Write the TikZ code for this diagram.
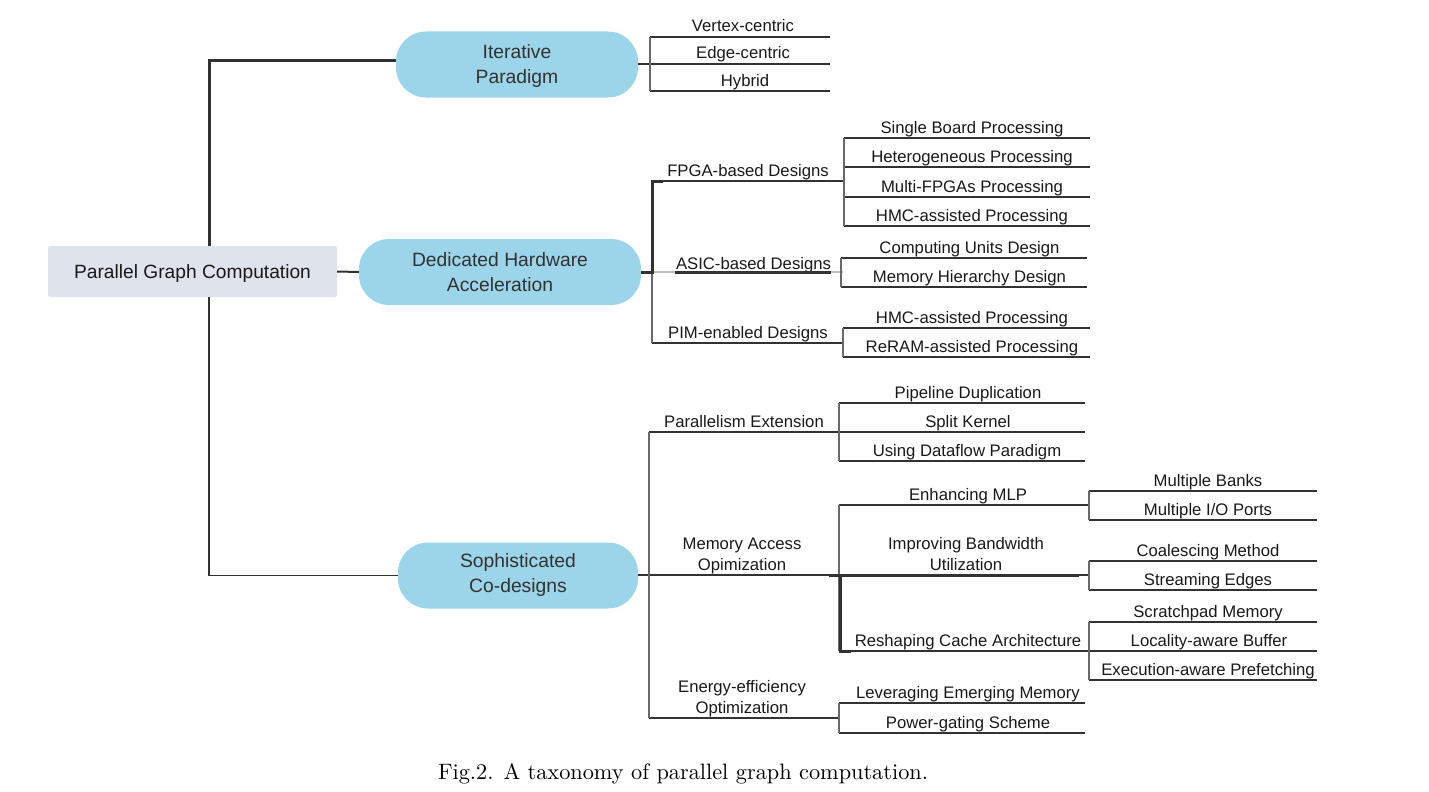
\documentclass[tikz,border=0pt]{standalone}
\usepackage{fontspec}
\newfontfamily\sansf{Liberation Sans}
\newfontfamily\capf{lmroman10-regular.otf}
\definecolor{pillblue}{RGB}{156,213,233}
\definecolor{rootgrey}{RGB}{223,227,236}
\definecolor{ldark}{RGB}{50,50,50}
\definecolor{lgrey}{RGB}{105,105,105}
\definecolor{llight}{RGB}{190,190,190}
\definecolor{tdark}{RGB}{25,25,25}
\definecolor{tpill}{RGB}{50,50,50}
\tikzset{
  pill/.style={fill=pillblue, rounded corners=30pt, minimum height=66pt, inner sep=0pt},
  pilltxt/.style={anchor=base, align=center, inner sep=0pt,
    font=\sansf\fontsize{19.3}{24.5}\selectfont, text=tpill},
  rootbox/.style={fill=rootgrey, rounded corners=2pt, minimum width=289pt, minimum height=51pt, inner sep=0pt,
    text height=13.8pt, text depth=0pt, font=\sansf\fontsize{19.2}{24}\selectfont, text=tdark},
  lbl/.style={font=\sansf\fontsize{16.7}{21}\selectfont, text=tdark, anchor=base, inner sep=0pt, align=center},
  hl/.style={draw=ldark, line width=1.3pt},
  vl/.style={draw=lgrey, line width=1.3pt},
  thk/.style={draw=ldark, line width=3pt},
  mid/.style={draw=ldark, line width=2pt},
}
% name, x1, x2, y, text-x, text
\newcommand\leafline[6]{%
  \coordinate (#1-l) at (#2,#4);
  \coordinate (#1-r) at (#3,#4);
  \node[lbl] (#1) at (#5,#4-5) {#6};
  \draw[hl] (#1-l) -- (#1-r);
}
\begin{document}
\begin{tikzpicture}[x=1pt,y=-1pt]
\useasboundingbox (0,0) rectangle (1429,792);

% main nodes
\node[rootbox] (root) at (192.5,271.5) {Parallel Graph Computation};
\node[pill, minimum width=242pt] (iter) at (517,64.5) {};
\node[pill, minimum width=282pt] (ded) at (500,272) {};
\node[pill, minimum width=240pt] (soph) at (518,575.5) {};
\node[pilltxt] (iter-t) at (517,83) {Iterative\\Paradigm};
\node[pilltxt] (ded-t) at (500,291) {Dedicated Hardware\\Acceleration};
\node[pilltxt] (soph-t) at (518,592) {Sophisticated\\Co-designs};

% root connectors
\coordinate (j0) at (209,61);
\coordinate (j1) at (209,575.5);
\draw[thk] (root.north -| j0) -- (j0) -- (j0 -| iter.west);
\draw[mid] (root.east) -- (ded.west);
\draw[draw=ldark, line width=1.6pt] (root.south -| j1) -- (j1) -- (j1 -| soph.west);

% ---------- Iterative Paradigm ----------
\leafline{vc}{650}{830}{37}{743}{Vertex-centric}
\leafline{ec}{650}{830}{64}{743}{Edge-centric}
\leafline{hy}{650}{830}{91}{745}{Hybrid}
\draw[hl] (iter.east |- ec-l) -- (ec-l);
\draw[vl] (vc-l) -- (hy-l);

% ---------- Dedicated Hardware ----------
\coordinate (dj) at (652,272);
\leafline{fpga}{652}{844}{181}{748}{FPGA-based Designs}
\leafline{pim}{652}{843}{343}{748}{PIM-enabled Designs}
\coordinate (asic-l) at (652,272);
\coordinate (asic-r) at (843,272);
\coordinate (asic-a) at (675,272);
\coordinate (asic-b) at (831,272);
\draw[draw=llight, line width=1.3pt] (asic-l) -- (asic-r);
\node[lbl] (asic) at (753.5,269) {ASIC-based Designs};
\draw[thk] (asic-a) -- (asic-b);
\draw[vl] (dj) -- (pim-l);
\coordinate (fk) at (663,181);
\draw[thk] (ded.east) -- (dj) -- (fpga-l) -- (fk);

% FPGA leaves
\leafline{sb}{844}{1090}{138}{972}{Single Board Processing}
\leafline{he}{844}{1090}{167}{972}{Heterogeneous Processing}
\leafline{mf}{844}{1090}{197}{972}{Multi-FPGAs Processing}
\leafline{hm}{844}{1090}{226}{972}{HMC-assisted Processing}
\draw[vl] (sb-l) -- (hm-l);
% ASIC leaves
\leafline{cu}{841}{1087}{258}{969.5}{Computing Units Design}
\leafline{mh}{841}{1087}{287}{969.5}{Memory Hierarchy Design}
\draw[vl] (cu-l) -- (mh-l);
% PIM leaves
\leafline{hp}{843}{1090}{328}{972}{HMC-assisted Processing}
\leafline{rr}{843}{1090}{357}{972}{ReRAM-assisted Processing}
\draw[vl] (hp-l) -- (rr-l);

% ---------- Sophisticated Co-designs ----------
\coordinate (sj) at (649,575);
\draw[hl] (soph.east |- sj) -- (sj);
\leafline{pe}{649}{839}{432}{744}{Parallelism Extension}
\leafline{ma}{649}{829}{575}{742}{Memory Access\\Opimization}
\leafline{ee}{649}{839}{718}{742}{Energy-efficiency\\Optimization}
\draw[vl] (pe-l) -- (ee-l);

% Parallelism leaves
\leafline{pd}{839}{1085}{403}{968}{Pipeline Duplication}
\leafline{sk}{839}{1085}{432}{968}{Split Kernel}
\leafline{ud}{839}{1085}{461}{967}{Using Dataflow Paradigm}
\draw[vl] (pd-l) -- (ud-l);

% Memory access sub-branches
\leafline{em}{839}{1089}{505}{968}{Enhancing MLP}
\leafline{ib}{839}{1089}{575}{966}{Improving Bandwidth\\Utilization}
\leafline{rc}{839}{1089}{651}{968}{Reshaping Cache Architecture}
\draw[vl] (em-l) -- (rc-l);
\coordinate (tb1) at (1079,575);
\coordinate (tv) at (840,575);
\coordinate (tv2) at (840,651);
\coordinate (tk) at (851,651);
\draw[thk] (ma-r) -- (tb1);
\draw[thk] (tv) -- (tv2) -- (tk);

% MLP leaves
\leafline{mb}{1089}{1317}{491}{1208}{Multiple Banks}
\leafline{mi}{1089}{1317}{520}{1208}{Multiple I/O Ports}
\draw[vl] (mb-l) -- (mi-l);
% Bandwidth leaves
\leafline{cm}{1089}{1317}{561}{1208}{Coalescing Method}
\leafline{se}{1089}{1317}{590}{1208}{Streaming Edges}
\draw[vl] (cm-l) -- (se-l);
% Cache leaves
\leafline{sm}{1089}{1317}{622}{1208}{Scratchpad Memory}
\leafline{lb}{1089}{1317}{651}{1209}{Locality-aware Buffer}
\leafline{ep}{1089}{1317}{680}{1208}{Execution-aware Prefetching}
\draw[vl] (sm-l) -- (ep-l);

% Energy leaves
\leafline{le}{839}{1085}{703}{968}{Leveraging Emerging Memory}
\leafline{pg}{839}{1085}{733}{968}{Power-gating Scheme}
\draw[vl] (le-l) -- (pg-l);

% caption
\node[anchor=base, inner sep=0pt, font=\capf\fontsize{22.3}{26}\selectfont] (cap) at (683,779) {Fig.2.\hspace{0.45em}A taxonomy of parallel graph computation.};
\end{tikzpicture}
\end{document}
